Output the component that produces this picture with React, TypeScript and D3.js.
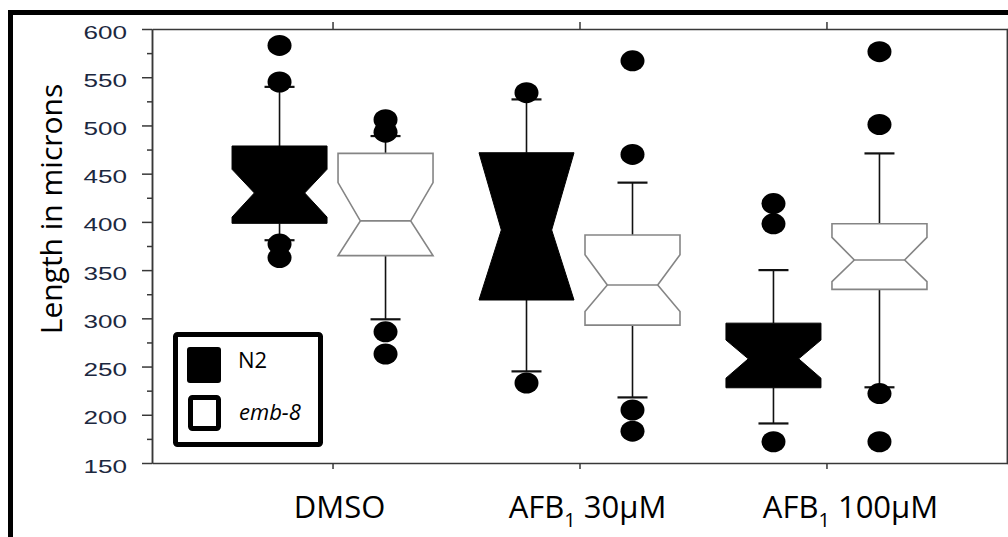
import * as d3 from "d3";
import { useRef, useEffect } from "react";

const groups = ["DMSO", "AFB1 30µM", "AFB1 100µM"];
const series = ["N2", "emb-8"];

// label pieces: main text, subscript, rest
const xLabelParts = [
  ["DMSO", "", ""],
  ["AFB", "1", " 30µM"],
  ["AFB", "1", " 100µM"],
];

// [lower whisker, Q1, notch low, median, notch high, Q3, upper whisker]
const n2Stats = [
  [381, 398.5, 405, 430, 454.5, 478.7, 540],
  [245, 319, 319, 391.6, 471.7, 471.7, 527],
  [191, 228, 238, 258, 277.5, 295, 350],
];
const emb8Stats = [
  [299, 365, 365, 401, 440.7, 471, 489],
  [218, 293, 307, 334.5, 366, 386.4, 440.7],
  [228.5, 330, 338, 360.5, 384, 398, 471],
];

const n2Outliers = [
  [583, 545, 377, 363],
  [534, 233],
  [419, 398, 172],
];
const emb8Outliers = [
  [506, 493, 286, 263],
  [567, 470, 205, 183],
  [576.5, 501, 222, 172],
];

const yTicks = [150, 200, 250, 300, 350, 400, 450, 500, 550, 600];
const yMinor = [175, 225, 275, 325, 375, 425, 475, 525, 575];

const width = 1008;
const height = 537;
const plot = { left: 152, right: 1007, top: 29, bottom: 463 };

export default function App() {
  const gLeft = useRef<SVGGElement | null>(null);
  const gLeftMinor = useRef<SVGGElement | null>(null);
  const gRight = useRef<SVGGElement | null>(null);
  const gRightMinor = useRef<SVGGElement | null>(null);
  const gTop = useRef<SVGGElement | null>(null);
  const gBottom = useRef<SVGGElement | null>(null);

  const x0 = d3.scalePoint().domain(groups).range([plot.left, plot.right]).padding(0.731);
  const x1 = d3.scalePoint().domain(series).range([-53, 53]);
  const y = d3.scaleLinear().domain([150, 600]).range([plot.bottom, plot.top]);

  const boxW = 95;
  const waist = 0.53;
  const capW = 30;

  useEffect(() => {
    const style = (sel: any) => {
      sel.selectAll("path,line").attr("stroke", "#383838").attr("stroke-width", 1.5);
      sel.selectAll("text").remove();
    };
    if (gLeft.current)
      d3.select(gLeft.current)
        .call(d3.axisLeft(y).tickValues(yTicks).tickSize(10).tickSizeOuter(0).tickFormat(() => ""))
        .call(style);
    if (gLeftMinor.current)
      d3.select(gLeftMinor.current)
        .call(d3.axisLeft(y).tickValues(yMinor).tickSize(5).tickSizeOuter(0).tickFormat(() => ""))
        .call(style);
    if (gRight.current)
      d3.select(gRight.current)
        .call(d3.axisRight(y).tickValues(yTicks).tickSize(10).tickSizeOuter(0).tickFormat(() => ""))
        .call(style);
    if (gRightMinor.current)
      d3.select(gRightMinor.current)
        .call(d3.axisRight(y).tickValues(yMinor).tickSize(5).tickSizeOuter(0).tickFormat(() => ""))
        .call(style);
    if (gTop.current)
      d3.select(gTop.current)
        .call(d3.axisTop(x0).tickSize(7).tickSizeOuter(0).tickFormat(() => ""))
        .call(style);
    if (gBottom.current)
      d3.select(gBottom.current)
        .call(d3.axisBottom(x0).tickSize(6).tickSizeOuter(0).tickFormat(() => ""))
        .call(style);
  });

  const line = d3.line<[number, number]>();

  const drawBox = (s: number[], cx: number, dark: boolean, key: string) => {
    const [lw, q1, nlo, med, nhi, q3, uw] = s;
    const hw = boxW / 2;
    const ww = (boxW * waist) / 2;
    const pts: [number, number][] = [
      [cx - hw, y(q3)],
      [cx + hw, y(q3)],
      [cx + hw, y(nhi)],
      [cx + ww, y(med)],
      [cx + hw, y(nlo)],
      [cx + hw, y(q1)],
      [cx - hw, y(q1)],
      [cx - hw, y(nlo)],
      [cx - ww, y(med)],
      [cx - hw, y(nhi)],
    ];
    return (
      <g key={key}>
        <line x1={cx} x2={cx} y1={y(q3)} y2={y(uw)} stroke="#111" strokeWidth={1.6} />
        <line x1={cx} x2={cx} y1={y(q1)} y2={y(lw)} stroke="#111" strokeWidth={1.6} />
        <line x1={cx - capW / 2} x2={cx + capW / 2} y1={y(uw)} y2={y(uw)} stroke="#111" strokeWidth={2.2} />
        <line x1={cx - capW / 2} x2={cx + capW / 2} y1={y(lw)} y2={y(lw)} stroke="#111" strokeWidth={2.2} />
        <path
          d={line(pts) + "Z"}
          fill={dark ? "#000" : "#fff"}
          stroke={dark ? "#000" : "#858585"}
          strokeWidth={dark ? 1 : 1.6}
          strokeLinejoin="miter"
        />
        {!dark && (
          <line x1={cx - ww} x2={cx + ww} y1={y(med)} y2={y(med)} stroke="#858585" strokeWidth={1.6} />
        )}
      </g>
    );
  };

  const labelDx = [7, 8, 24];

  return (
    <svg
      width={width}
      height={height}
      style={{ position: "absolute", left: 0, top: 0, display: "block", background: "#fff" }}
    >
      <rect x={10.5} y={12.5} width={1100} height={600} fill="#fff" stroke="#000" strokeWidth={5} />

      <g ref={gLeft} transform={`translate(${plot.left},0)`} />
      <g ref={gLeftMinor} transform={`translate(${plot.left},0)`} />
      <g ref={gRight} transform={`translate(${plot.right},0)`} />
      <g ref={gRightMinor} transform={`translate(${plot.right},0)`} />
      <g ref={gTop} transform={`translate(0,${plot.top})`} />
      <g ref={gBottom} transform={`translate(0,${plot.bottom})`} />

      {yTicks.map((t) => (
        <text
          key={t}
          transform={`translate(127,${y(t) + 9.5}) scale(1.45,1)`}
          textAnchor="end"
          fontFamily="'Liberation Sans', Arial, sans-serif"
          fontSize={18}
          fill="#1c2840"
        >
          {t}
        </text>
      ))}

      <text
        transform={`translate(62,209) rotate(-90)`}
        textAnchor="middle"
        fontFamily="'Open Sans', sans-serif"
        fontSize={30}
        fill="#000"
      >
        Length in microns
      </text>

      {groups.map((g, i) => (
        <g key={g}>
          {drawBox(n2Stats[i], (x0(g) ?? 0) + (x1("N2") ?? 0), true, "n2")}
          {drawBox(emb8Stats[i], (x0(g) ?? 0) + (x1("emb-8") ?? 0), false, "emb")}
        </g>
      ))}

      {groups.map((g, i) => (
        <g key={g + "o"}>
          {n2Outliers[i].map((v, j) => (
            <ellipse key={"a" + j} cx={(x0(g) ?? 0) + (x1("N2") ?? 0)} cy={y(v)} rx={12} ry={10.5} fill="#000" />
          ))}
          {emb8Outliers[i].map((v, j) => (
            <ellipse key={"b" + j} cx={(x0(g) ?? 0) + (x1("emb-8") ?? 0)} cy={y(v)} rx={12} ry={10.5} fill="#000" />
          ))}
        </g>
      ))}

      {groups.map((g, i) => {
        const [main, sub, rest] = xLabelParts[i];
        return (
          <text
            key={g + "l"}
            x={(x0(g) ?? 0) + labelDx[i]}
            y={518}
            textAnchor="middle"
            fontFamily="'Open Sans', sans-serif"
            fontSize={31}
            fill="#000"
          >
            <tspan>{main}</tspan>
            {sub && (
              <tspan fontSize={20} dy={9}>
                {sub}
              </tspan>
            )}
            {rest && <tspan dy={sub ? -9 : 0}>{rest}</tspan>}
          </text>
        );
      })}

      <g>
        <rect x={175.5} y={334.5} width={145} height={110} rx={2} fill="#fff" stroke="#000" strokeWidth={5} />
        <rect x={187} y={347} width={34} height={36} rx={3} fill="#000" />
        <rect x={190.5} y={397.5} width={28} height={31} rx={2} fill="#fff" stroke="#000" strokeWidth={5} />
        <text x={238} y={368} fontFamily="'Open Sans', sans-serif" fontSize={22} fill="#000">
          {series[0]}
        </text>
        <text x={239} y={420} fontFamily="'Open Sans', sans-serif" fontSize={22} fontStyle="italic" fill="#000">
          {series[1]}
        </text>
      </g>
    </svg>
  );
}
